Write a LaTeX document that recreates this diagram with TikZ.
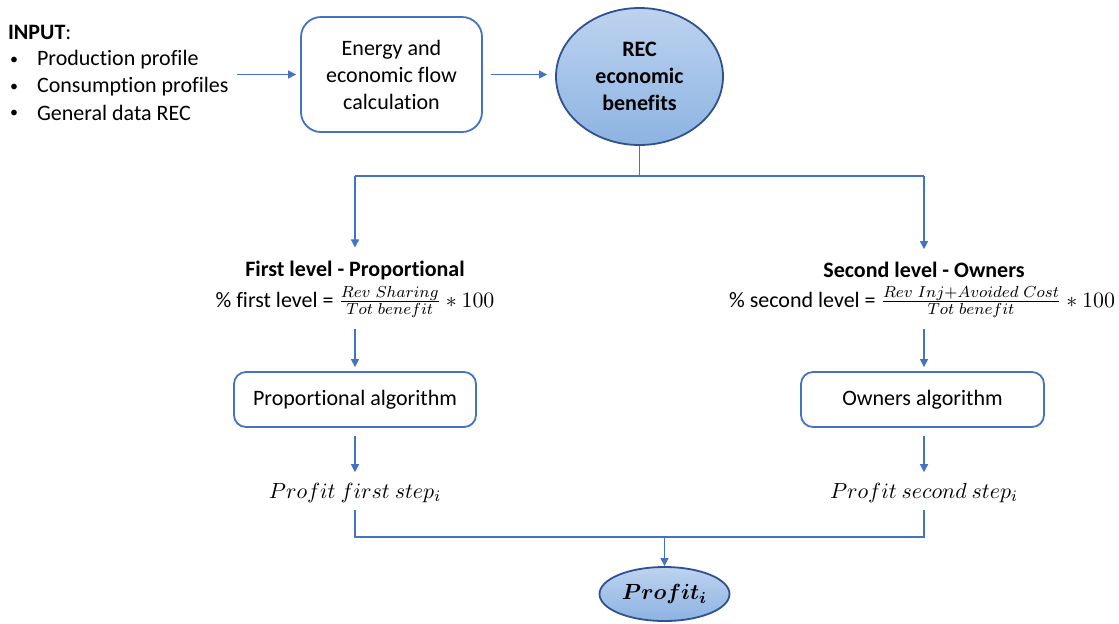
\documentclass[tikz,border=0pt]{standalone}
\usepackage{bm}
\usepackage{fontspec}
\setmainfont{Carlito}[Ligatures=NoCommon]
\usetikzlibrary{arrows.meta,shapes.geometric}
\definecolor{lineblue}{HTML}{4472C4}
\definecolor{edgeblue}{HTML}{2F528F}
\definecolor{filltop}{HTML}{BDD3EF}
\definecolor{fillbot}{HTML}{8DB3E2}
\begin{document}
\begin{tikzpicture}[x=0.5pt,y=-0.5pt,
  every node/.style={font=\fontsize{11}{13.5}\selectfont},
  conn/.style={draw=lineblue,line width=0.6pt},
  arr/.style={conn,-{Triangle[length=4pt,width=4pt]}},
  procbox/.style={draw=lineblue,line width=0.9pt,align=center,inner sep=0pt},
  blob/.style={ellipse,draw=edgeblue,line width=0.9pt,top color=filltop,bottom color=fillbot,inner sep=0pt,align=center},
  mathlbl/.style={font=\fontsize{11}{13}\selectfont},
  bul/.style={font=\fontsize{8}{10}\selectfont},
]
\useasboundingbox (0,0) rectangle (1119,623);

% input list
\node[anchor=west] (inhead) at (1,32) {\textbf{INPUT}:};
\node[bul] (b1) at (14,61) {•};
\node[bul] (b2) at (14,88) {•};
\node[bul] (b3) at (14,114) {•};
\node[anchor=west] (in1) at (30,60) {Production profile};
\node[anchor=west] (in2) at (30,87) {Consumption profiles};
\node[anchor=west] (in3) at (30,113) {General data REC};
\coordinate (inend) at (237,74.5);

% top row
\node[procbox,rounded corners=10pt,minimum width=90.5pt,minimum height=57.5pt] (calc) at (391.5,74.5)
  {Energy and\\economic flow\\calculation};
\node[blob,minimum width=83.5pt,minimum height=68.5pt] (rec) at (639.5,76.5)
  {\textbf{REC}\\\textbf{economic}\\\textbf{benefits}};

\draw[arr,shorten >=2pt] (inend) -- (calc.west);
\draw[arr,shorten <=4pt,shorten >=4pt] (calc.east) -- (calc.east -| rec.west);

% split
\coordinate (split) at (639.5,176);
\coordinate (ltop) at (355,176);
\coordinate (rtop) at (924,176);
\draw[conn] (rec.south) -- (split);
\draw[conn] (ltop) -- (rtop);

% left branch
\node[font=\fontsize{11}{13.5}\selectfont\bfseries] (lvl1) at (355,270) {First level - Proportional};
\node (form1) at (355,302) {\% first level = $\frac{Rev\ Sharing}{Tot\ benefit}\ast 100$};
\node[procbox,rounded corners=6pt,minimum width=121pt,minimum height=27.5pt] (alg1) at (355,399.5) {Proportional algorithm};
\node[mathlbl] (prof1) at (355,493) {$Profit\ first\ step_i$};

% right branch
\node[font=\fontsize{11}{13.5}\selectfont\bfseries] (lvl2) at (924,270) {Second level - Owners};
\node (form2) at (922,302) {\% second level = $\frac{Rev\ Inj{+}Avoided\ Cost}{Tot\ benefit}\ast 100$};
\node[procbox,rounded corners=6pt,minimum width=121.5pt,minimum height=27.5pt] (alg2) at (922.5,399.5) {Owners algorithm};
\node[mathlbl] (prof2) at (924,493) {$Profit\ second\ step_i$};

\draw[arr,shorten >=3pt] (ltop) -- (lvl1.north);
\draw[arr,shorten >=3pt] (rtop) -- (lvl2.north);
\draw[arr,shorten <=2pt,shorten >=2pt] (alg1.north |- form1.south) -- (alg1.north);
\draw[arr,shorten <=2pt,shorten >=2pt] (prof2.north |- form2.south) -- (prof2.north |- alg2.north);
\draw[arr,shorten <=4pt,shorten >=2pt] (alg1.south) -- (prof1.north);
\draw[arr,shorten <=4pt,shorten >=2pt] (prof2.north |- alg2.south) -- (prof2.north);

% join
\coordinate (jl) at (355,537);
\coordinate (jr) at (924,537);
\coordinate (join) at (664.5,537);
\node[blob,minimum width=65pt,minimum height=27pt] (profit) at (664.5,594)
  {\fontsize{11}{13}\selectfont$\bm{Profit_i}$};
\draw[conn] (prof1.south) -- (jl) -- (jr) -- (prof2.south);
\draw[arr] (join) -- (profit.north);
\end{tikzpicture}
\end{document}
